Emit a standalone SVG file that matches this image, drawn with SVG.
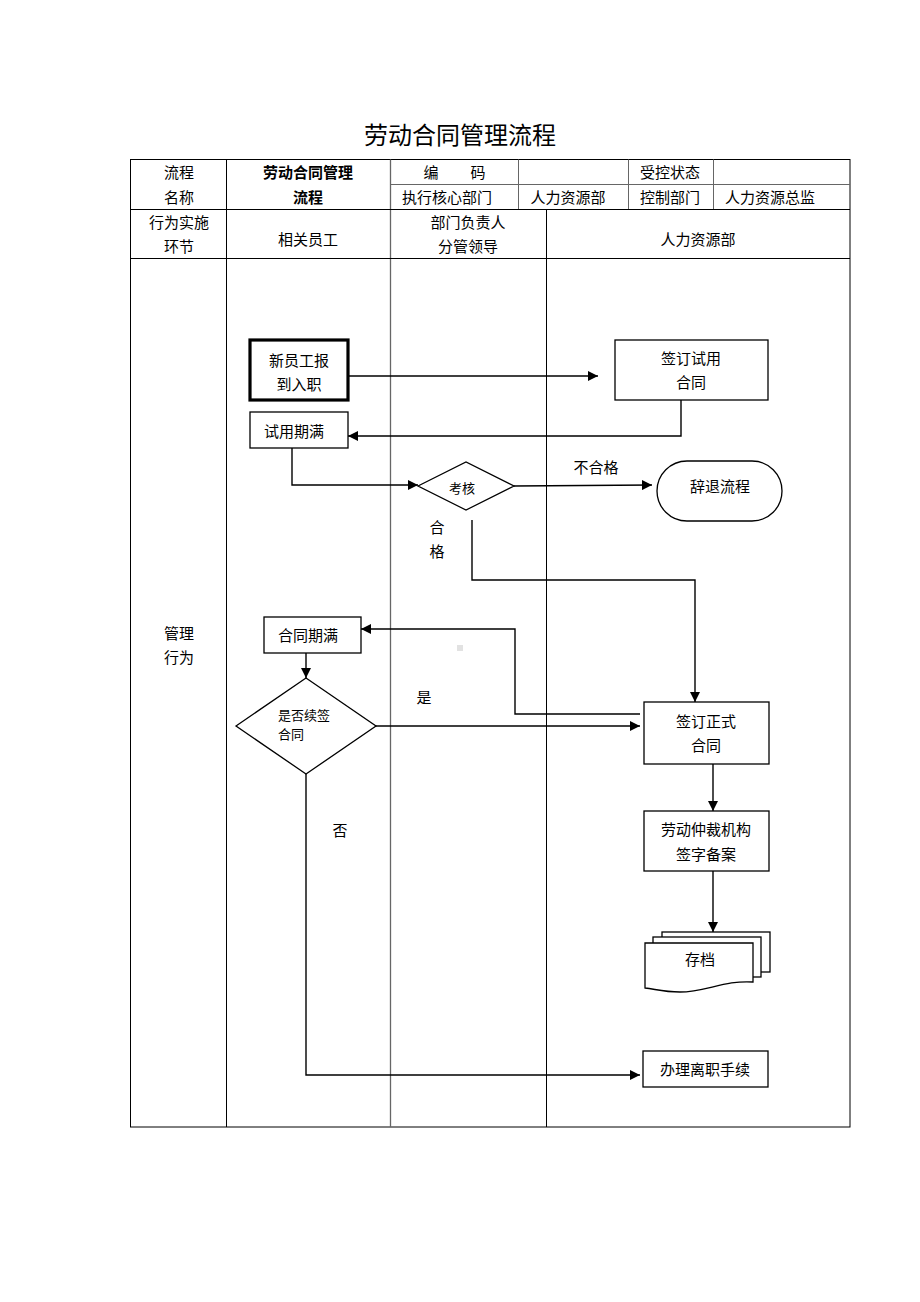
<svg xmlns="http://www.w3.org/2000/svg" width="920" height="1302" viewBox="0 0 920 1302">
<defs>
<style>
text{font-family:"Liberation Sans","Noto Sans CJK SC",sans-serif;fill:#000;font-size:15px;text-anchor:middle;dominant-baseline:central}
.b{font-weight:bold}
.l{text-anchor:start}
.t{font-size:24px}
.s{font-size:13px}
.grid{stroke:#000;stroke-width:1;fill:none}
.gr{stroke:#666;stroke-width:1;fill:none}
.node{fill:#fff;stroke:#000;stroke-width:1.3}
.conn{fill:none;stroke:#000;stroke-width:1.4;marker-end:url(#ah)}
</style>
<marker id="ah" viewBox="0 0 10 10" refX="10" refY="5" markerWidth="10" markerHeight="10" markerUnits="userSpaceOnUse" orient="auto">
<path d="M0,0 L10,5 L0,10 Z" fill="#000"/>
</marker>
</defs>
<rect width="920" height="1302" fill="#fff"/>
<text class="t" x="460" y="135">劳动合同管理流程</text>
<g id="table">
<rect class="grid" x="130.5" y="159.5" width="719.5" height="967.5"/>
<line class="grid" x1="226.5" y1="159.5" x2="226.5" y2="1127"/>
<line class="gr" x1="390.5" y1="159.5" x2="390.5" y2="1127" style="stroke-width:1.3"/>
<line class="grid" x1="546.5" y1="209.5" x2="546.5" y2="1127"/>
<line class="gr" x1="518.5" y1="159.5" x2="518.5" y2="209.5"/>
<line class="gr" x1="628.5" y1="159.5" x2="628.5" y2="209.5"/>
<line class="gr" x1="713.5" y1="159.5" x2="713.5" y2="209.5"/>
<line class="gr" x1="390.5" y1="184.5" x2="850" y2="184.5"/>
<line class="grid" x1="130.5" y1="209.5" x2="850" y2="209.5"/>
<line class="grid" x1="130.5" y1="258.5" x2="850" y2="258.5"/>
<text x="179" y="172">流程</text>
<text x="179" y="197">名称</text>
<text class="b" x="308" y="172">劳动合同管理</text>
<text class="b" x="308" y="197">流程</text>
<text x="431" y="172">编</text>
<text x="478" y="172">码</text>
<text x="447" y="197">执行核心部门</text>
<text x="568" y="197">人力资源部</text>
<text x="670" y="172">受控状态</text>
<text x="670" y="197">控制部门</text>
<text x="770" y="197">人力资源总监</text>
<text x="179" y="222">行为实施</text>
<text x="179" y="246">环节</text>
<text x="308" y="239">相关员工</text>
<text x="468" y="222">部门负责人</text>
<text x="468" y="246">分管领导</text>
<text x="698" y="239">人力资源部</text>
<text x="179" y="633">管理</text>
<text x="179" y="657">行为</text>
</g>
<g id="connectors">
<polyline class="conn" points="348,376 598,376"/>
<polyline class="conn" points="681,400 681,436 348,436"/>
<polyline class="conn" points="292,448 292,485 418,485"/>
<polyline class="conn" points="514,486 652,485"/>
<polyline class="conn" points="472,520 472,580 695,580 695,702"/>
<polyline class="conn" points="640,714 515,714 515,629 361,629"/>
<polyline class="conn" points="306,653 306,678"/>
<polyline class="conn" points="376,726 640,726"/>
<polyline class="conn" points="713,764 713,811"/>
<polyline class="conn" points="713,871 713,932"/>
<polyline class="conn" points="306,774 306,1075 640,1075"/>
<text x="596" y="467">不合格</text>
<text x="437" y="527">合</text>
<text x="437" y="551">格</text>
<text x="424" y="697">是</text>
<text x="340" y="830">否</text>
<rect x="457" y="645" width="6" height="6" fill="#e2e2e2"/>
</g>
<g id="n1">
<rect class="node" x="250" y="340" width="98" height="60" style="stroke-width:3.2"/>
<text x="299" y="360">新员工报</text>
<text x="299" y="384">到入职</text>
</g>
<g id="n2">
<rect class="node" x="615" y="340" width="153" height="60"/>
<text x="691" y="358">签订试用</text>
<text x="691" y="382">合同</text>
</g>
<g id="n3">
<rect class="node" x="250" y="412" width="98" height="36"/>
<text x="294" y="431">试用期满</text>
</g>
<g id="n4">
<polygon class="node" points="418,486 466,462 514,486 466,510"/>
<text class="s" x="462" y="488">考核</text>
</g>
<g id="n5">
<rect class="node" x="657" y="461" width="125" height="60" rx="30" ry="30"/>
<text x="720" y="486">辞退流程</text>
</g>
<g id="n6">
<rect class="node" x="264" y="617" width="97" height="36"/>
<text x="308" y="635">合同期满</text>
</g>
<g id="n7">
<polygon class="node" points="236,726 306,678 376,726 306,774"/>
<text class="s l" x="278" y="715">是否续签</text>
<text class="s l" x="278" y="734">合同</text>
</g>
<g id="n8">
<rect class="node" x="644" y="702" width="125" height="62"/>
<text x="706" y="721">签订正式</text>
<text x="706" y="745">合同</text>
</g>
<g id="n9">
<rect class="node" x="644" y="811" width="125" height="60"/>
<text x="706" y="829">劳动仲裁机构</text>
<text x="706" y="854">签字备案</text>
</g>
<g id="n10">
<rect class="node" x="662" y="932" width="108" height="40"/>
<rect class="node" x="653" y="937" width="108" height="40"/>
<path class="node" d="M645,943 L753,943 L753,982 C725,980 705,992 680,992 C663,992 655,989 645,988 Z"/>
<text x="700" y="959">存档</text>
</g>
<g id="n11">
<rect class="node" x="643" y="1051" width="125" height="36"/>
<text x="705" y="1069">办理离职手续</text>
</g>
</svg>
